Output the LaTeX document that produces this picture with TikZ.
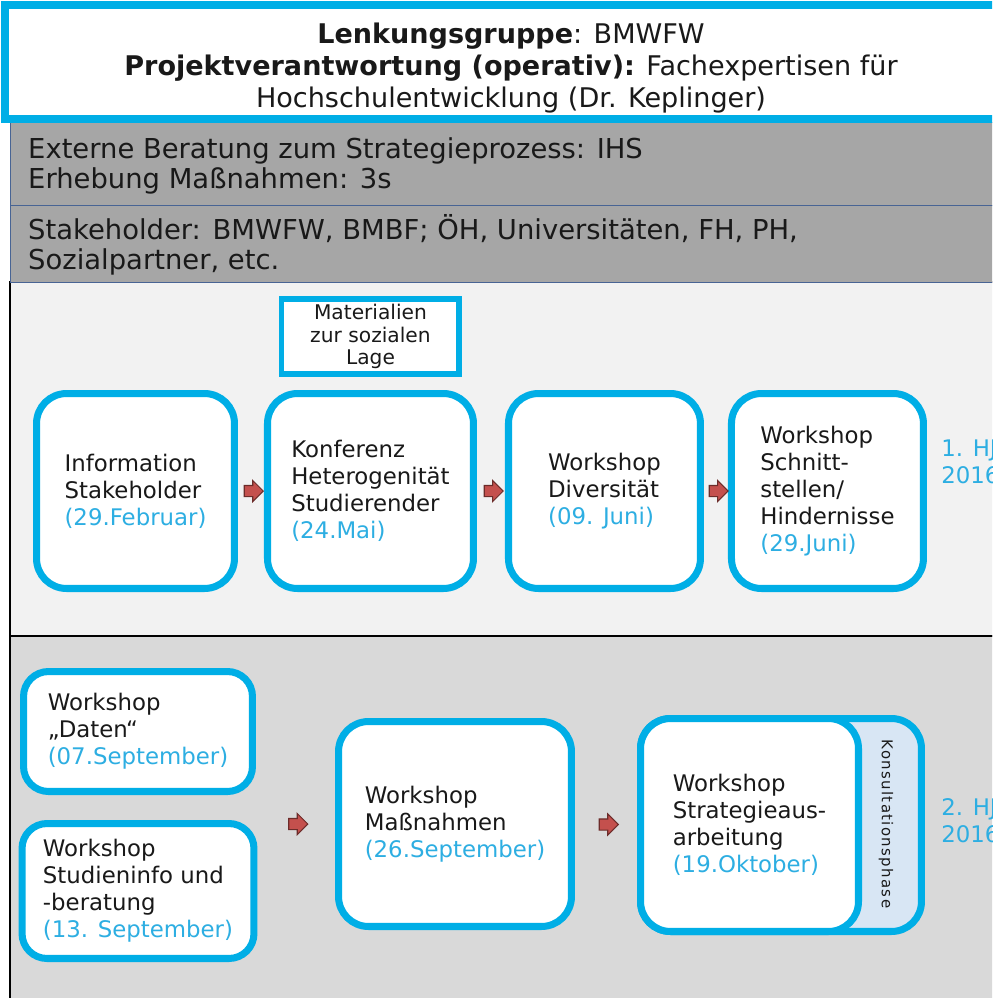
\documentclass[tikz,border=0pt]{standalone}
\usepackage{fontspec}
\setmainfont{DejaVu Sans}
\usetikzlibrary{calc, positioning, shapes.arrows}
\definecolor{hjblau}{RGB}{0,174,230}
\definecolor{datum}{RGB}{45,174,226}
\definecolor{balken}{RGB}{166,166,166}
\definecolor{balkenrand}{RGB}{72,100,148}
\definecolor{feldeins}{RGB}{242,242,242}
\definecolor{feldzwei}{RGB}{217,217,217}
\definecolor{pfeilrot}{RGB}{196,80,77}
\definecolor{konsulblau}{RGB}{216,230,244}
\definecolor{schrift}{RGB}{25,25,25}

\begin{document}
\begin{tikzpicture}[x=0.02cm, y=-0.02cm, rand/.style={draw=hjblau, line width=4pt}, text=schrift]
% Styles for stages, arrows and side labels
\tikzstyle{stage} = [draw, fill=white, rectangle, rounded corners=0.6cm, rand, align=left, inner sep=0pt, font=\fontsize{13}{15.3}\selectfont]
\tikzstyle{kasten} = [stage, rounded corners=0.5cm]
\tikzstyle{material} = [draw, fill=white, rectangle, rand, line width=3.4pt, align=center, inner sep=0pt, font=\fontsize{11.5}{13}\selectfont]
\tikzstyle{pfeil} = [single arrow, draw=pfeilrot!55!black, fill=pfeilrot, line width=0.6pt, inner sep=0.1cm, minimum width=0.42cm, minimum height=0.38cm, single arrow head extend=0.1cm]
\tikzstyle{hjlabel} = [anchor=west, align=left, inner sep=0pt, text=datum, font=\fontsize{13}{15.3}\selectfont]
\tikzstyle{balkentext} = [anchor=west, align=left, font=\fontsize{15.6}{17.2}\selectfont]

\useasboundingbox (0,0) rectangle (992,998);
\clip (0,0) rectangle (992,998);

% Background panels
\draw[line width=1.2pt, fill=feldeins] (10,282) rectangle (1010,636);
\draw[line width=1.2pt, fill=feldzwei] (10,636) rectangle (1010,1010);
\draw[balkenrand, fill=balken] (10,122) rectangle (1010,205);
\draw[balkenrand, fill=balken] (10,205) rectangle (1010,282);
\draw[rand, fill=white] (5,5) rectangle (1010,119);

% Header and bands
\node[align=center, font=\fontsize{15.4}{18.1}\selectfont] (kopf) at (511,68) {\textbf{Lenkungsgruppe}: BMWFW\\ \textbf{Projektverantwortung (operativ):} Fachexpertisen für\\ Hochschulentwicklung (Dr. Keplinger)};
\node[balkentext] (beratung) at (22,166) {Externe Beratung zum Strategieprozess: IHS\\ Erhebung Maßnahmen: 3s};
\node[balkentext] (stakeholder) at (22,245) {Stakeholder: BMWFW, BMBF; ÖH, Universitäten, FH, PH,\\ Sozialpartner, etc.};

% First half year
\node[stage, minimum width=3.96cm, minimum height=3.9cm] (info) at (135.5,491) {Information\\ Stakeholder\\ \textcolor{datum}{(29.Februar)}};
\node[stage, minimum width=4.12cm, minimum height=3.9cm, right=0.52cm of info] (konferenz) {Konferenz\\ Heterogenität\\ Studierender\\ \textcolor{datum}{(24.Mai)}};
\node[stage, minimum width=3.84cm, minimum height=3.9cm, right=0.56cm of konferenz] (diversitaet) {Workshop\\ Diversität\\ \textcolor{datum}{(09. Juni)}};
\node[stage, minimum width=3.84cm, minimum height=3.9cm, right=0.48cm of diversitaet] (schnitt) {Workshop\\ Schnitt-\\ stellen/\\ Hindernisse\\ \textcolor{datum}{(29.Juni)}};
\node[material, minimum width=3.56cm, minimum height=1.5cm, above=0.26cm of konferenz] (lage) {Materialien\\ zur sozialen\\ Lage};
\node[hjlabel] (hjeins) at (941,462) {1. HJ\\ 2016};

\node[pfeil] (p1) at ($(info.east)!0.5!(konferenz.west)$) {};
\node[pfeil] (p2) at ($(konferenz.east)!0.5!(diversitaet.west)$) {};
\node[pfeil] (p3) at ($(diversitaet.east)!0.5!(schnitt.west)$) {};

% Second half year
\node[kasten, minimum width=4.58cm, minimum height=2.4cm] (daten) at (138,731.5) {Workshop\\ „Daten“\\ \textcolor{datum}{(07.September)}};
\node[kasten, minimum width=4.64cm, minimum height=2.7cm, below=0.5cm of daten] (studien) {Workshop\\ Studieninfo und\\ -beratung\\ \textcolor{datum}{(13. September)}};
\node[stage, minimum width=4.66cm, minimum height=4.1cm] (massnahmen) at (455,824) {Workshop\\ Maßnahmen\\ \textcolor{datum}{(26.September)}};
\node[stage, fill=konsulblau, minimum width=5.62cm, minimum height=4.26cm] (konsult) at (781,825) {};
\node[stage, minimum width=4.36cm, minimum height=4.26cm, anchor=west] (strategie) at (konsult.west) {Workshop\\ Strategieaus-\\ arbeitung\\ \textcolor{datum}{(19.Oktober)}};
\node[rotate=-90, font=\fontsize{8.5}{9}\selectfont\addfontfeature{LetterSpace=9}] (konsultlabel) at (886,824) {Konsultationsphase};
\node[hjlabel] (hjzwei) at (941,821) {2. HJ\\ 2016};

\node[pfeil] (p4) at ($(daten.east |- massnahmen.west)!0.5!(massnahmen.west)$) {};
\node[pfeil] (p5) at ($(massnahmen.east)!0.5!(strategie.west)$) {};
\end{tikzpicture}
\end{document}
